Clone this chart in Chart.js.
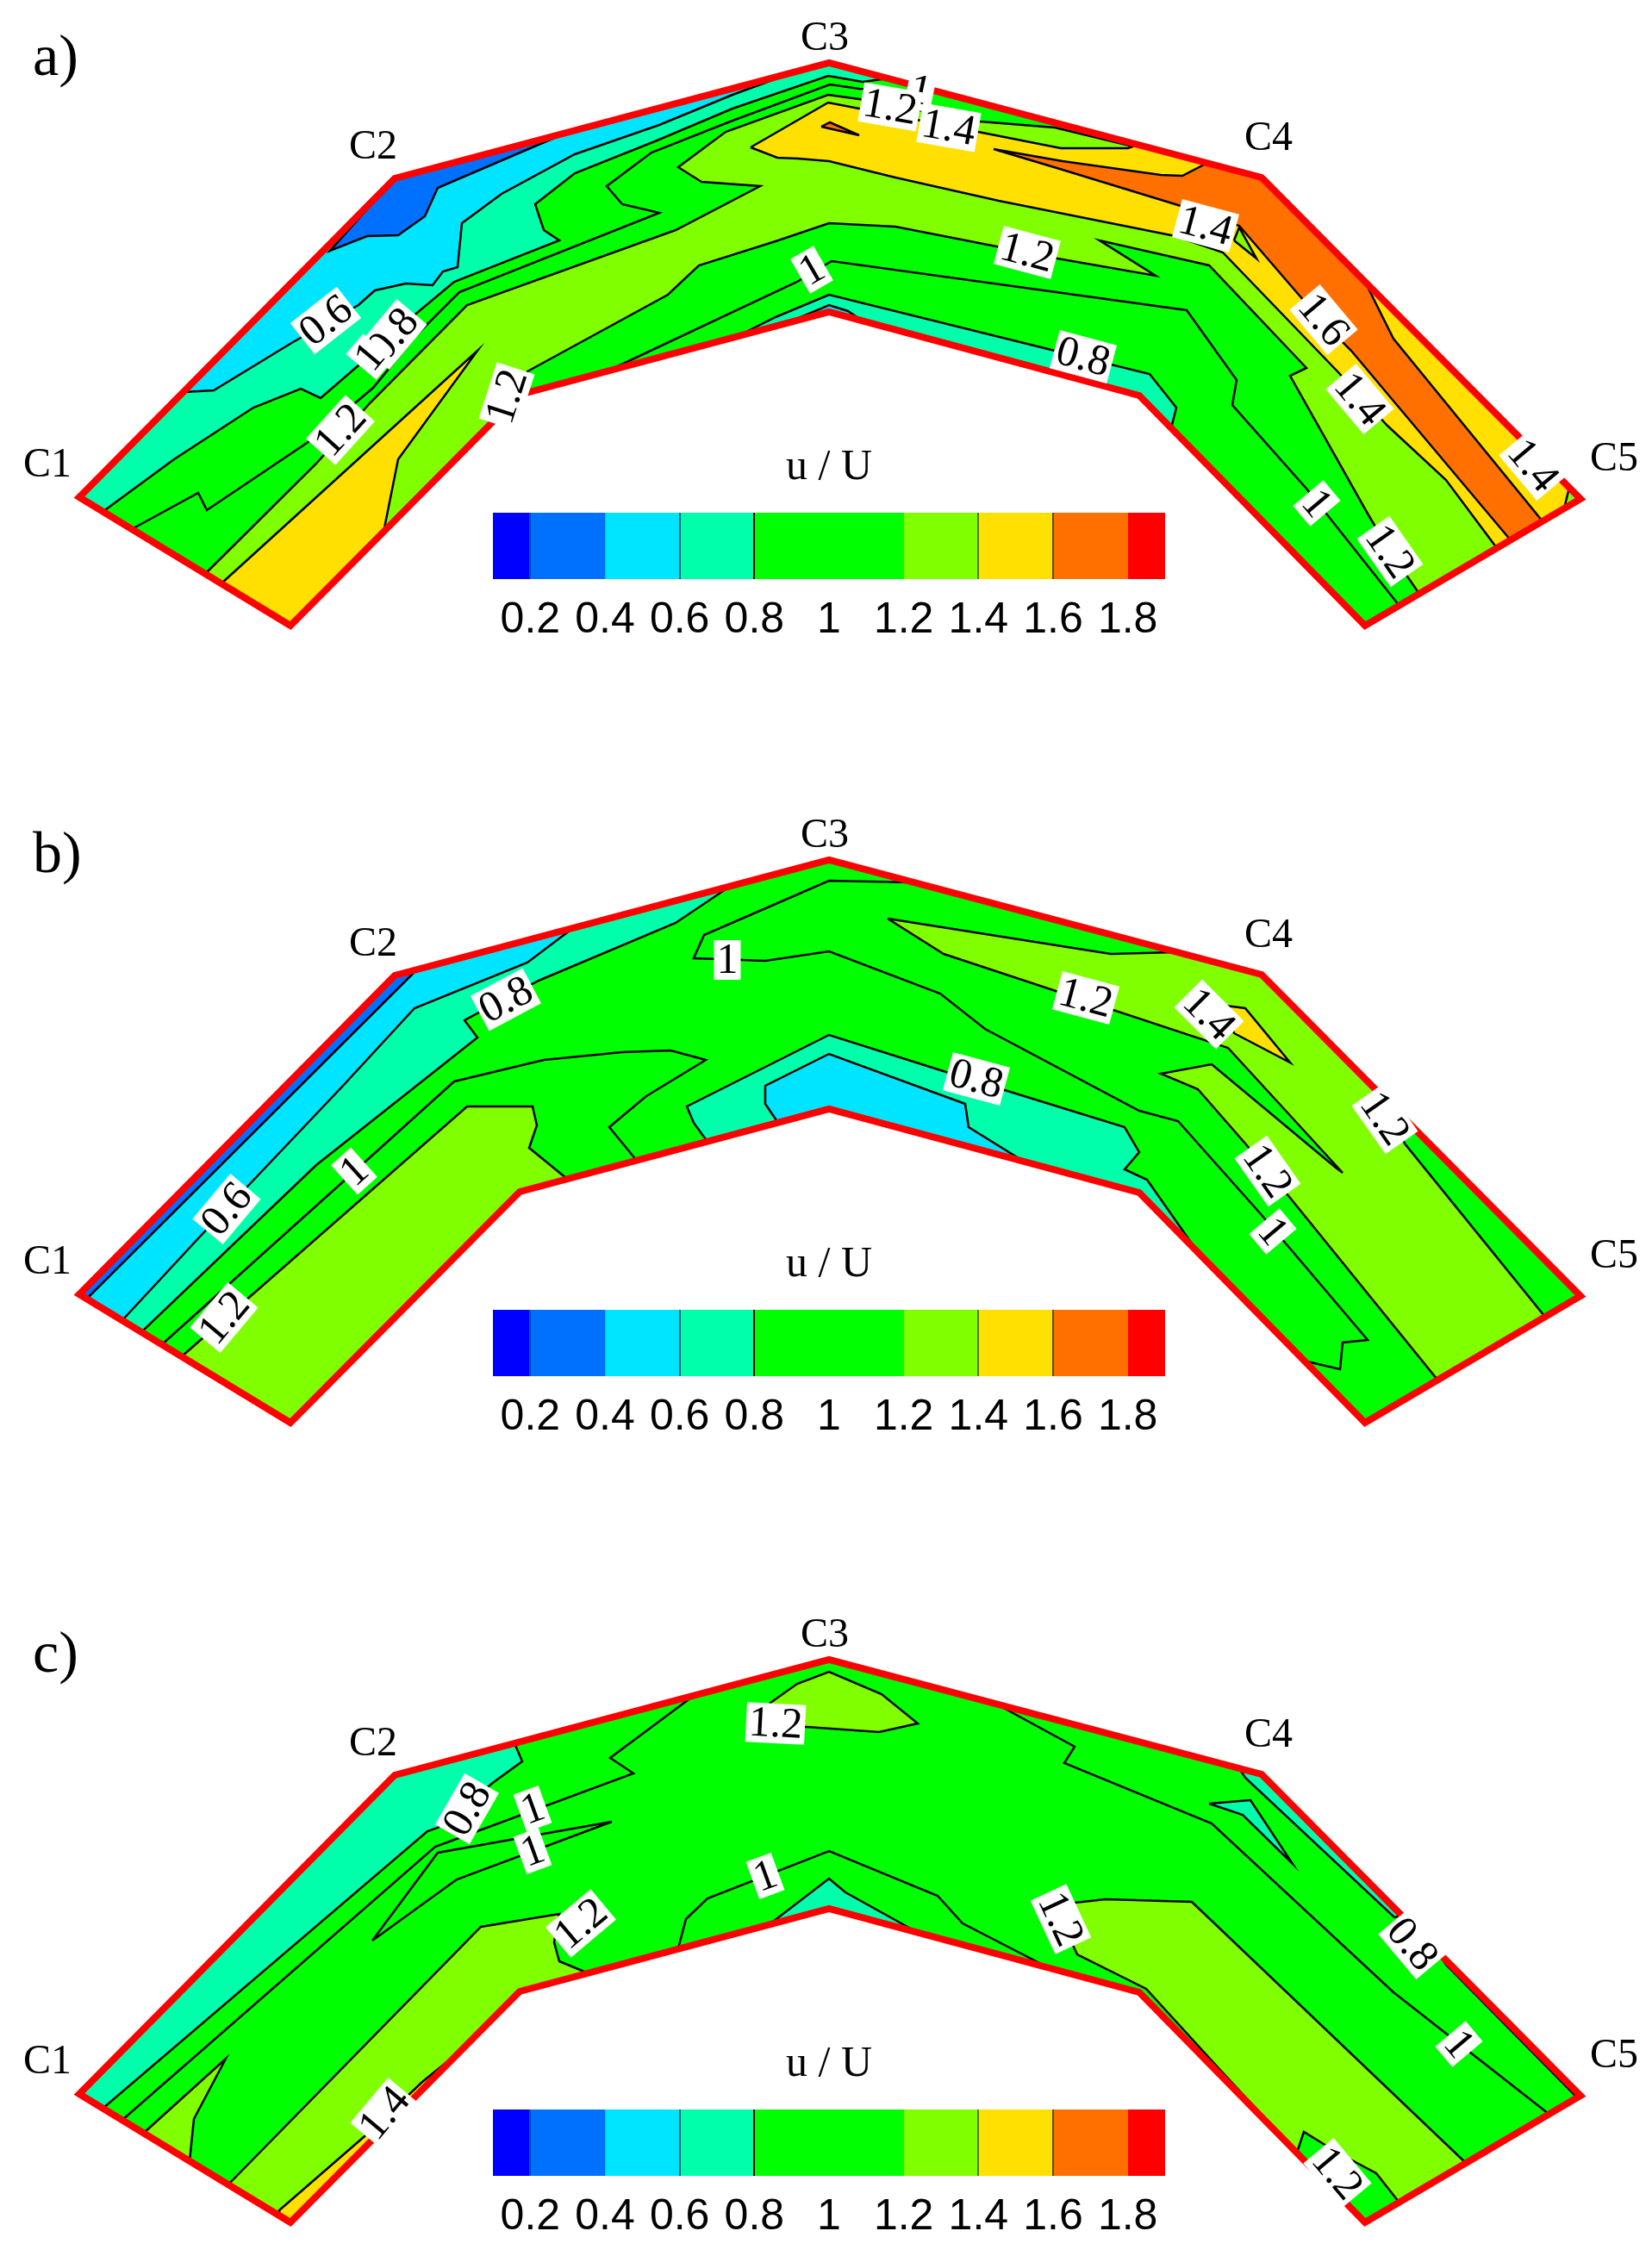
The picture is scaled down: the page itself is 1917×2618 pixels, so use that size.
<!DOCTYPE html>
<html>
<head>
<meta charset="utf-8">
<title>u / U contours</title>
<script src="https://cdn.jsdelivr.net/npm/chart.js@4"></script>
<style>
    html, body { margin: 0; background: #fff; }
    #page { position: relative; width: 1917px; height: 2618px; overflow: hidden; }
    .panel { position: absolute; left: 0; }
    .bar { position: absolute; left: 472px; top: 510px; }
</style>
</head>
<body>
<div id="page">
    <div class="panel" style="top:0"><canvas id="panelA" width="1917" height="765"></canvas><canvas class="bar" id="barA" width="980" height="240"></canvas></div>
    <div class="panel" style="top:925px"><canvas id="panelB" width="1917" height="765"></canvas><canvas class="bar" id="barB" width="980" height="240"></canvas></div>
    <div class="panel" style="top:1853px"><canvas id="panelC" width="1917" height="765"></canvas><canvas class="bar" id="barC" width="980" height="240"></canvas></div>
</div>
<script>
// Colour bar
const levelEdges = [0.1, 0.2, 0.4, 0.6, 0.8, 1.2, 1.4, 1.6, 1.8, 1.9];
const levelColors = ['#0000ff', '#0070ff', '#00e5ff', '#00ffaa', '#00ff00', '#7fff00', '#ffe000', '#ff7000', '#ff0000'];
const tickValues = [0.2, 0.4, 0.6, 0.8, 1, 1.2, 1.4, 1.6, 1.8];
const tickLabels = ['0.2', '0.4', '0.6', '0.8', '1', '1.2', '1.4', '1.6', '1.8'];
const tickLineColors = ['#0050b0', 'transparent', '#006070', '#000000', 'transparent', 'transparent', '#508000', '#505000', 'transparent'];

const BLUE = '#0070ff', CYAN = '#00e5ff', TEAL = '#00ffaa', GREEN = '#00ff00', LIME = '#7fff00', YELLOW = '#ffe000', ORANGE = '#ff7000';

// Section outline
const outline = [[92,577],[337,726],[603,458],[962,362],[1322,459],[1584,726],[1834,579],[1464,206],[962,73],[458,207]];
const stationNames = ['C1', 'C2', 'C3', 'C4', 'C5'];
const stationX = [55, 433, 957, 1472, 1873];
const stationY = [540, 171, 45, 161, 533];

// Panel a
const aTeal = [[92,577],[119,594],[202,533],[294,473],[349,451],[372,462],[416,424],[478,368],[527,327],[649,279],[631,267],[621,237],[667,201],[760,164],[850,126],[961,88],[1001,95],[1030,91],[962,73],[458,207]];
const aCyan = [[213,455],[248,453],[340,397],[416,354],[435,337],[471,329],[502,331],[514,315],[531,310],[536,259],[582,225],[667,179],[765,145],[850,110],[915,86],[458,207]];
const aBlue = [[458,207],[655,155],[508,218],[493,251],[462,273],[426,274],[383,291]];
const aLime = [[238,666],[367,538],[429,468],[542,354],[784,267],[882,216],[814,211],[787,194],[842,153],[961,110],[997,115],[1137,141],[1224,148],[1464,206],[1834,579],[1647,689],[1613,640],[1587,596],[1497,436],[1516,427],[1403,308],[1276,279],[1341,320],[1227,300],[1192,293],[1039,263],[962,259],[900,280],[811,308],[775,342],[612,431],[603,458],[337,726]];
const aYellowLeft = [[257,677],[554,407],[462,533],[445,618],[337,726]];
const aYellow = [[871,171],[961,119],[997,126],[1135,153],[1231,172],[1309,172],[1320,168],[1464,206],[1821,566],[1815,590],[1737,636],[1678,557],[1610,494],[1552,431],[1419,293],[1364,274],[1159,233],[1039,206],[962,187],[926,184],[902,183]];
const aOrange = [[1153,173],[1233,187],[1347,203],[1372,204],[1401,189],[1464,206],[1584,327],[1617,393],[1790,605],[1753,627],[1568,407],[1532,371],[1438,262],[1367,238],[1233,197]];
const aOrangeTip = [[953,147],[963,142],[997,157]];
const aLimePocket = [[1432,279],[1458,300],[1438,264]];
const aTealInner = [[854,391],[900,368],[962,342],[1224,407],[1334,434],[1365,473],[1359,497],[1322,459],[962,362]];
const aCyanInner = [[915,374],[962,354],[984,361],[1000,372],[962,362]];
const aLineUpper = [[153,614],[230,572],[240,592],[362,510],[433,450],[484,388],[533,339],[765,247],[722,237],[704,216],[756,177],[850,140],[963,98],[997,103],[1068,106]];
const aLineLower = [[704,431],[925,327],[965,303],[1377,360],[1435,441],[1430,470],[1516,567],[1623,702]];
const aLabels = [['0.6',378,372,-38],['0.8',456,388,-50],['1',429,414,-50],['1.2',395,499,-48],['1.2',588,460,-72],['1',942,313,-30],['1',1068,105,12],['1.2',1033,124,10],['1.4',1101,148,10],['1.4',1399,262,15],['1.2',1192,293,15],['0.8',1257,414,15],['1.6',1536,371,50],['1.4',1578,463,50],['1.4',1779,540,50],['1',1528,584,50],['1.2',1613,640,55]];

// Panel b
const bTeal = [[92,577],[164,621],[367,427],[554,279],[539,259],[625,213],[784,146],[848,103],[458,207]];
const bCyan = [[92,577],[142,607],[233,509],[288,451],[398,335],[481,245],[612,192],[661,155],[458,207]];
const bBlue = [[92,577],[101,582],[471,213],[484,200],[458,207]];
const bLimeLeft = [[211,649],[542,359],[618,359],[623,381],[614,407],[658,443],[603,458],[337,726]];
const bLimeRight = [[1030,141],[1289,182],[1364,180],[1464,206],[1610,353],[1630,402],[1792,602],[1668,676],[1497,465],[1445,402],[1390,339],[1347,321],[1406,310],[1550,430],[1558,436],[1425,291],[1095,182]];
const bYellow = [[1422,242],[1445,245],[1497,308],[1432,274]];
const bTealInner = [[821,400],[805,378],[797,359],[962,276],[1101,320],[1305,383],[1322,412],[1305,432],[1331,444],[1385,521],[1322,459],[962,362]];
const bCyanInner = [[903,378],[888,356],[888,335],[962,298],[1120,356],[1124,383],[1185,421],[962,362]];
const bLineLeft = [[187,636],[404,441],[527,330],[631,305],[722,296],[778,294],[819,305],[750,347],[707,383],[739,422]];
const bLineTop = [[1056,99],[962,97],[900,124],[817,160],[805,187],[888,190],[962,179],[1091,228],[1143,269],[1322,364],[1367,376],[1464,485],[1587,630],[1558,633],[1555,664],[1517,655]];
const bLabels = [['0.6',263,478,-50],['1',411,434,-42],['1.2',260,604,-50],['0.8',587,235,-28],['1',844,189,0],['1.2',1260,233,15],['1.4',1403,252,45],['0.8',1133,327,15],['1.2',1471,434,55],['1',1477,504,50],['1.2',1607,373,55]];

// Panel c
const cTeal = [[92,577],[119,594],[496,272],[508,268],[573,215],[606,191],[597,170],[458,207]];
const cLimeSpike = [[167,622],[262,536],[225,606],[220,655]];
const cLimeBig = [[265,682],[558,383],[649,368],[643,401],[649,423],[683,437],[603,458],[337,726]];
const cYellow = [[325,719],[324,712],[430,620],[490,563],[533,528],[337,726]];
const cLimeTop = [[880,150],[894,123],[925,101],[962,87],[1023,113],[1065,147],[1020,157],[936,151]];
const cLimeRight = [[1231,358],[1247,355],[1283,351],[1383,354],[1701,657],[1623,702],[1597,669],[1552,645],[1513,621],[1505,645],[1415,548],[1330,455],[1250,415],[1231,374]];
const cTealPocket = [[1403,240],[1451,236],[1500,310],[1442,253]];
const cTealStripA = [[1438,199],[1464,206],[1627,370],[1618,372],[1445,210]];
const cTealStripB = [[1672,418],[1678,427],[1827,578],[1834,579]];
const cTealInner = [[893,380],[962,327],[981,343],[1062,388],[962,362]];
const cLineUpper = [[142,607],[505,290],[527,282],[735,205],[708,187],[802,117]];
const cLineSpike = [[432,399],[508,297],[710,261],[530,328],[432,399]];
const cLineRight = [[1159,126],[1247,174],[1235,193],[1406,263],[1617,459],[1797,600]];
const cLineInner = [[787,408],[796,374],[821,350],[962,295],[1088,347],[1117,379],[1212,428]];
const cLabels = [['0.8',542,246,-60],['1',618,246,-20],['1',618,295,-20],['1.2',674,379,-40],['1.4',446,599,-50],['1',888,324,-20],['1.2',900,147,3],['1.2',1231,374,65],['0.8',1639,403,50],['1',1693,519,50],['1.2',1552,669,50]];

function toPoints(list) {
    return list.map(p => ({x: p[0], y: p[1]}));
}

function regionDataset(points, color) {
    return {
        data: toPoints(points.concat([points[0]])),
        showLine: true,
        pointRadius: 0,
        borderColor: '#000000',
        borderWidth: 2.5,
        borderJoinStyle: 'miter',
        regionFill: color,
        clip: false
    };
}

function lineDataset(points) {
    return {
        data: toPoints(points),
        showLine: true,
        pointRadius: 0,
        borderColor: '#000000',
        borderWidth: 2.5,
        clip: false
    };
}

// Fills each closed region from the points the scales have placed
const regionFillPlugin = {
    id: 'regionFill',
    beforeDatasetDraw(chart, args) {
        const color = chart.data.datasets[args.index].regionFill;
        if (!color) return;
        const ctx = chart.ctx;
        const pts = args.meta.data;
        ctx.save();
        ctx.beginPath();
        pts.forEach((p, i) => i ? ctx.lineTo(p.x, p.y) : ctx.moveTo(p.x, p.y));
        ctx.closePath();
        ctx.fillStyle = color;
        ctx.fill();
        ctx.restore();
    }
};

const annotationPlugin = {
    id: 'panelText',
    afterDatasetsDraw(chart, args, opts) {
        const ctx = chart.ctx;
        const xs = chart.scales.x;
        const ys = chart.scales.y;
        ctx.save();
        ctx.fillStyle = '#000';
        ctx.textBaseline = 'middle';
        ctx.textAlign = 'center';
        ctx.font = '48px "Liberation Serif"';
        stationNames.forEach((name, i) => {
            ctx.fillText(name, xs.getPixelForValue(stationX[i]), ys.getPixelForValue(stationY[i]));
        });
        ctx.textBaseline = 'alphabetic';
        ctx.textAlign = 'left';
        ctx.font = '68px "Liberation Serif"';
        ctx.fillText(opts.title, xs.getPixelForValue(38), ys.getPixelForValue(87));

        ctx.font = '50px "Liberation Serif"';
        ctx.textBaseline = 'middle';
        ctx.textAlign = 'center';
        opts.labels.forEach(([text, x, y, angle]) => {
            const w = ctx.measureText(text).width + 6;
            ctx.save();
            ctx.translate(xs.getPixelForValue(x), ys.getPixelForValue(y));
            ctx.rotate(angle * Math.PI / 180);
            ctx.fillStyle = '#fff';
            ctx.fillRect(-w / 2, -23, w, 46);
            ctx.fillStyle = '#000';
            ctx.fillText(text, 0, 2);
            ctx.restore();
        });
        ctx.restore();
    }
};

function drawPanel(id, title, regions, lines, labels) {
    const datasets = [regionDataset(outline, GREEN)];
    datasets[0].borderColor = 'transparent';
    regions.forEach(r => datasets.push(regionDataset(r[0], r[1])));
    lines.forEach(l => datasets.push(lineDataset(l)));

    const edge = lineDataset(outline.concat([outline[0], outline[1]]));
    edge.borderColor = '#ff0000';
    edge.borderWidth = 8;
    edge.borderJoinStyle = 'miter';
    datasets.push(edge);

    // Lower order is painted on top, so the list order is the paint order
    datasets.forEach((d, i) => { d.order = datasets.length - i; });

    new Chart(document.getElementById(id), {
        type: 'scatter',
        data: {datasets: datasets},
        options: {
            responsive: false,
            animation: false,
            events: [],
            layout: {padding: 0},
            scales: {
                x: {type: 'linear', min: 0, max: 1917, display: false},
                y: {type: 'linear', min: 0, max: 765, reverse: true, display: false}
            },
            plugins: {
                legend: {display: false},
                tooltip: {enabled: false},
                panelText: {title: title, labels: labels}
            }
        },
        plugins: [regionFillPlugin, annotationPlugin]
    });
}

function drawColorbar(id) {
    new Chart(document.getElementById(id), {
        type: 'bar',
        data: {
            labels: ['u/U'],
            datasets: levelColors.map((color, i) => ({
                data: [[levelEdges[i], levelEdges[i + 1]]],
                backgroundColor: color,
                borderWidth: 0,
                grouped: false,
                barPercentage: 1,
                categoryPercentage: 1
            }))
        },
        options: {
            indexAxis: 'y',
            responsive: false,
            animation: false,
            events: [],
            layout: {padding: {left: 100, right: 100}},
            scales: {
                x: {
                    type: 'linear',
                    min: levelEdges[0],
                    max: levelEdges[levelEdges.length - 1],
                    afterBuildTicks: axis => { axis.ticks = tickValues.map(v => ({value: v})); },
                    afterFit: axis => { axis.height = 78; },
                    border: {display: false},
                    grid: {
                        z: 1,
                        drawTicks: false,
                        lineWidth: 2,
                        color: ctx => tickLineColors[ctx.index]
                    },
                    ticks: {
                        autoSkip: false,
                        maxRotation: 0,
                        padding: 18,
                        color: '#000',
                        font: {family: '"Liberation Sans"', size: 50},
                        callback: (value, index) => tickLabels[index]
                    }
                },
                y: {type: 'category', display: false}
            },
            plugins: {
                legend: {display: false},
                tooltip: {enabled: false},
                title: {
                    display: true,
                    text: 'u / U',
                    color: '#000',
                    font: {family: '"Liberation Serif"', size: 50, weight: 'normal', lineHeight: 1},
                    padding: {top: 8, bottom: 27}
                }
            }
        }
    });
}

drawPanel('panelA', 'a)',
    [[aTeal, TEAL], [aCyan, CYAN], [aBlue, BLUE], [aLime, LIME], [aYellowLeft, YELLOW], [aYellow, YELLOW], [aOrange, ORANGE], [aOrangeTip, ORANGE], [aLimePocket, LIME], [aTealInner, TEAL], [aCyanInner, CYAN]],
    [aLineUpper, aLineLower], aLabels);
drawPanel('panelB', 'b)',
    [[bTeal, TEAL], [bCyan, CYAN], [bBlue, BLUE], [bLimeLeft, LIME], [bLimeRight, LIME], [bYellow, YELLOW], [bTealInner, TEAL], [bCyanInner, CYAN]],
    [bLineLeft, bLineTop], bLabels);
drawPanel('panelC', 'c)',
    [[cTeal, TEAL], [cLimeSpike, LIME], [cLimeBig, LIME], [cYellow, YELLOW], [cLimeTop, LIME], [cLimeRight, LIME], [cTealPocket, TEAL], [cTealStripA, TEAL], [cTealStripB, TEAL], [cTealInner, TEAL]],
    [cLineUpper, cLineSpike, cLineRight, cLineInner], cLabels);

drawColorbar('barA');
drawColorbar('barB');
drawColorbar('barC');
</script>
</body>
</html>
